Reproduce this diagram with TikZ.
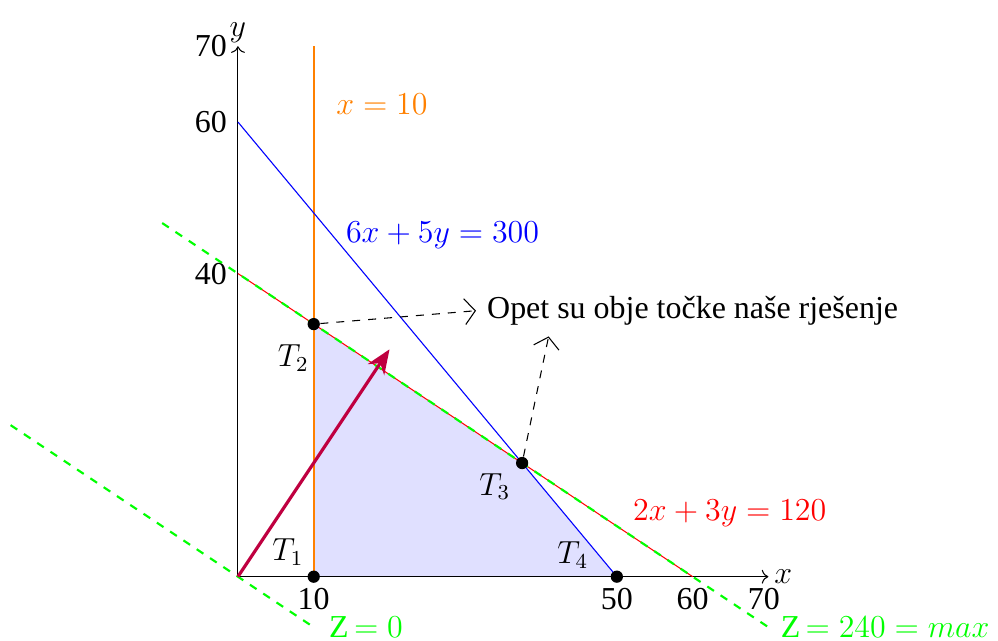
\documentclass[tikz,border=0pt,12pt]{standalone}
\usepackage{fontspec}
\setmainfont{Liberation Serif}
\usetikzlibrary{arrows.meta}
\definecolor{lineorange}{RGB}{255,128,0}
\begin{document}
\begin{tikzpicture}[x=0.1cm,y=0.1cm,
  axis/.style={->,black},
  lbl/.style={inner sep=2pt},
  zline/.style={green,dashed,thick},
  note arrow/.style={dashed,-{Straight Barb[length=1.4mm,width=3.4mm]}},
  dot/.style={circle,fill=black,inner sep=0pt,minimum size=4.6pt}]
\useasboundingbox (-31.4,-8.44) rectangle (100.3,76.1);
% points
\coordinate (O) at (0,0);
\coordinate (A) at (10,0);
\coordinate (T2) at (10,100/3);
\coordinate (T3) at (37.5,15);
\coordinate (B) at (50,0);
\coordinate (Y60) at (0,60);
\coordinate (Y40) at (0,40);
\coordinate (X60) at (60,0);
\coordinate (X70) at (70,0);
\coordinate (Y70) at (0,70);
\coordinate (V10) at (10,70);
\coordinate (G1) at (-10,140/3);
\coordinate (G2) at (70,-20/3);
\coordinate (Z1) at (-30,20);
\coordinate (Z2) at (10,-20/3);
\coordinate (Grad) at (20,30);
\coordinate (N2) at (41,0);
% feasible region
\fill[blue!12] (A) -- (T2) -- (T3) -- (B) -- cycle;
% axes
\draw[axis] (O) -- (X70) node[right,lbl] {$x$};
\draw[axis] (O) -- (Y70) node[above,inner sep=1pt] {$y$};
\node[left] at (Y70) {70};
\node[left] at (Y60) {60};
\node[left] at (Y40) {40};
\node[below] at (A) {10};
\node[below] at (B) {50};
\node[below] at (X60) {60};
\node[below,xshift=-0.6mm] at (X70) {70};
% constraint lines
\draw[lineorange,line width=0.6pt] (A) -- (V10);
\draw[blue] (Y60) -- (B);
\draw[red] (Y40) -- (X60);
\draw[zline] (G1) -- (G2);
\draw[zline] (Z1) -- (Z2);
% labels
\node[lineorange] (lx) at (19.0,62.4) {$x=10$};
\node[blue] (lb) at (27.0,45.0) {$6x+5y=300$};
\node[red] (lr) at (64.9,8.3) {$2x+3y=120$};
\node[green] (lz0) at (16.9,-6.6) {Z$\,=0$};
\node[green] (lzm) at (85.4,-6.6) {Z$\,=240=max$};
% gradient arrow
\draw[very thick,purple,-{Stealth[length=3.2mm,width=2.6mm,inset=1mm]}] (O) -- (Grad);
% points
\node[dot] (d1) at (A) {};
\node[dot] (d2) at (T2) {};
\node[dot] (d3) at (T3) {};
\node[dot] (d4) at (B) {};
\node (t1) at (6.6,3.3) {$T_1$};
\node (t2) at (7.3,28.9) {$T_2$};
\node (t3) at (33.9,11.9) {$T_3$};
\node (t4) at (44.2,2.9) {$T_4$};
% note
\node (note) at (60.0,35.1) {Opet su obje točke naše rješenje};
\draw[note arrow] (d2) -- (note.west);
\draw[note arrow] (d3) -- (note.south -| N2);
\end{tikzpicture}
\end{document}
